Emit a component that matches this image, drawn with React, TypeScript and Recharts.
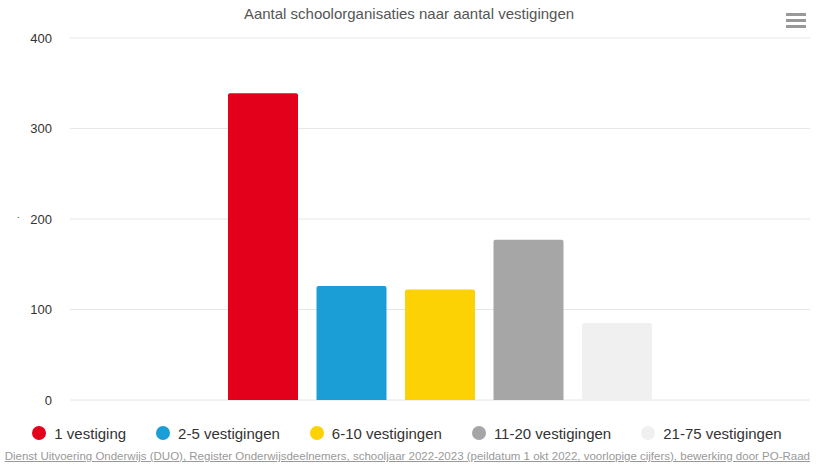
import { Bar, BarChart, CartesianGrid, Label, Legend, XAxis, YAxis } from "recharts";

const categories = ["Schoolorganisaties"];
const seriesNames = ["1 vestiging", "2-5 vestigingen", "6-10 vestigingen", "11-20 vestigingen", "21-75 vestigingen"];
const seriesValues = [339, 126, 122, 177, 85];
const seriesColors = ["#e2001a", "#1b9ed6", "#fcd205", "#a6a6a6", "#f0f0f0"];
const yTicks = [0, 100, 200, 300, 400];

const title = "Aantal schoolorganisaties naar aantal vestigingen";
const credits =
  "Dienst Uitvoering Onderwijs (DUO), Register Onderwijsdeelnemers, schooljaar 2022-2023 (peildatum 1 okt 2022, voorlopige cijfers), bewerking door PO-Raad";

const data = categories.map((name) => {
  const row: Record<string, string | number> = { name };
  seriesNames.forEach((s, i) => {
    row[s] = seriesValues[i];
  });
  return row;
});

const font = "'Liberation Sans', Arial, sans-serif";

function LegendContent() {
  return (
    <div
      style={{
        display: "flex",
        justifyContent: "center",
        alignItems: "center",
        gap: 30,
        height: 24,
        fontFamily: font,
        fontSize: 15,
        color: "#333",
        paddingRight: 4,
      }}
    >
      {seriesNames.map((s, i) => (
        <div key={s} style={{ display: "flex", alignItems: "center" }}>
          <span
            style={{
              width: 14,
              height: 14,
              borderRadius: 7,
              background: seriesColors[i],
              marginRight: 8,
              display: "inline-block",
            }}
          />
          <span>{s}</span>
        </div>
      ))}
    </div>
  );
}

export default function App() {
  return (
    <div style={{ position: "absolute", left: 0, top: 0, width: 818, height: 464, background: "#fff", fontFamily: font }}>
      <div
        style={{
          position: "absolute",
          top: 5,
          left: 0,
          width: 818,
          textAlign: "center",
          fontSize: 15,
          color: "#555",
        }}
      >
        {title}
      </div>
      <svg style={{ position: "absolute", left: 786, top: 12 }} width={20} height={16}>
        <rect x={0} y={1} width={20} height={3} fill="#999" />
        <rect x={0} y={7} width={20} height={3} fill="#999" />
        <rect x={0} y={13} width={20} height={3} fill="#999" />
      </svg>
      <BarChart
        width={818}
        height={464}
        data={data}
        margin={{ top: 38, right: 8, left: 0, bottom: 40 }}
        barSize={70}
        barGap={18.5}
      >
        <CartesianGrid vertical={false} stroke="#e6e6e6" />
        <XAxis dataKey="name" tick={false} tickLine={false} axisLine={{ stroke: "#555", strokeWidth: 1.5 }} height={0} />
        <YAxis
          width={70}
          domain={[0, 400]}
          ticks={yTicks}
          axisLine={false}
          tickLine={false}
          tickSize={0}
          tickMargin={18}
          tick={{ fontSize: 13, fill: "#333", fontFamily: font }}
        >
          <Label value="." angle={-90} position="insideLeft" offset={15} style={{ fontSize: 11, fill: "#666" }} />
        </YAxis>
        <Legend
          verticalAlign="bottom"
          content={<LegendContent />}
          wrapperStyle={{ position: "absolute", top: 421, left: 0, width: 818, height: 24 }}
        />
        {seriesNames.map((s, i) => (
          <Bar key={s} dataKey={s} fill={seriesColors[i]} radius={[2, 2, 0, 0]} isAnimationActive={false} />
        ))}
      </BarChart>
      <div
        style={{
          position: "absolute",
          top: 450,
          right: 8,
          fontSize: 11.5,
          color: "#999",
          textDecoration: "underline",
          whiteSpace: "nowrap",
        }}
      >
        {credits}
      </div>
    </div>
  );
}
